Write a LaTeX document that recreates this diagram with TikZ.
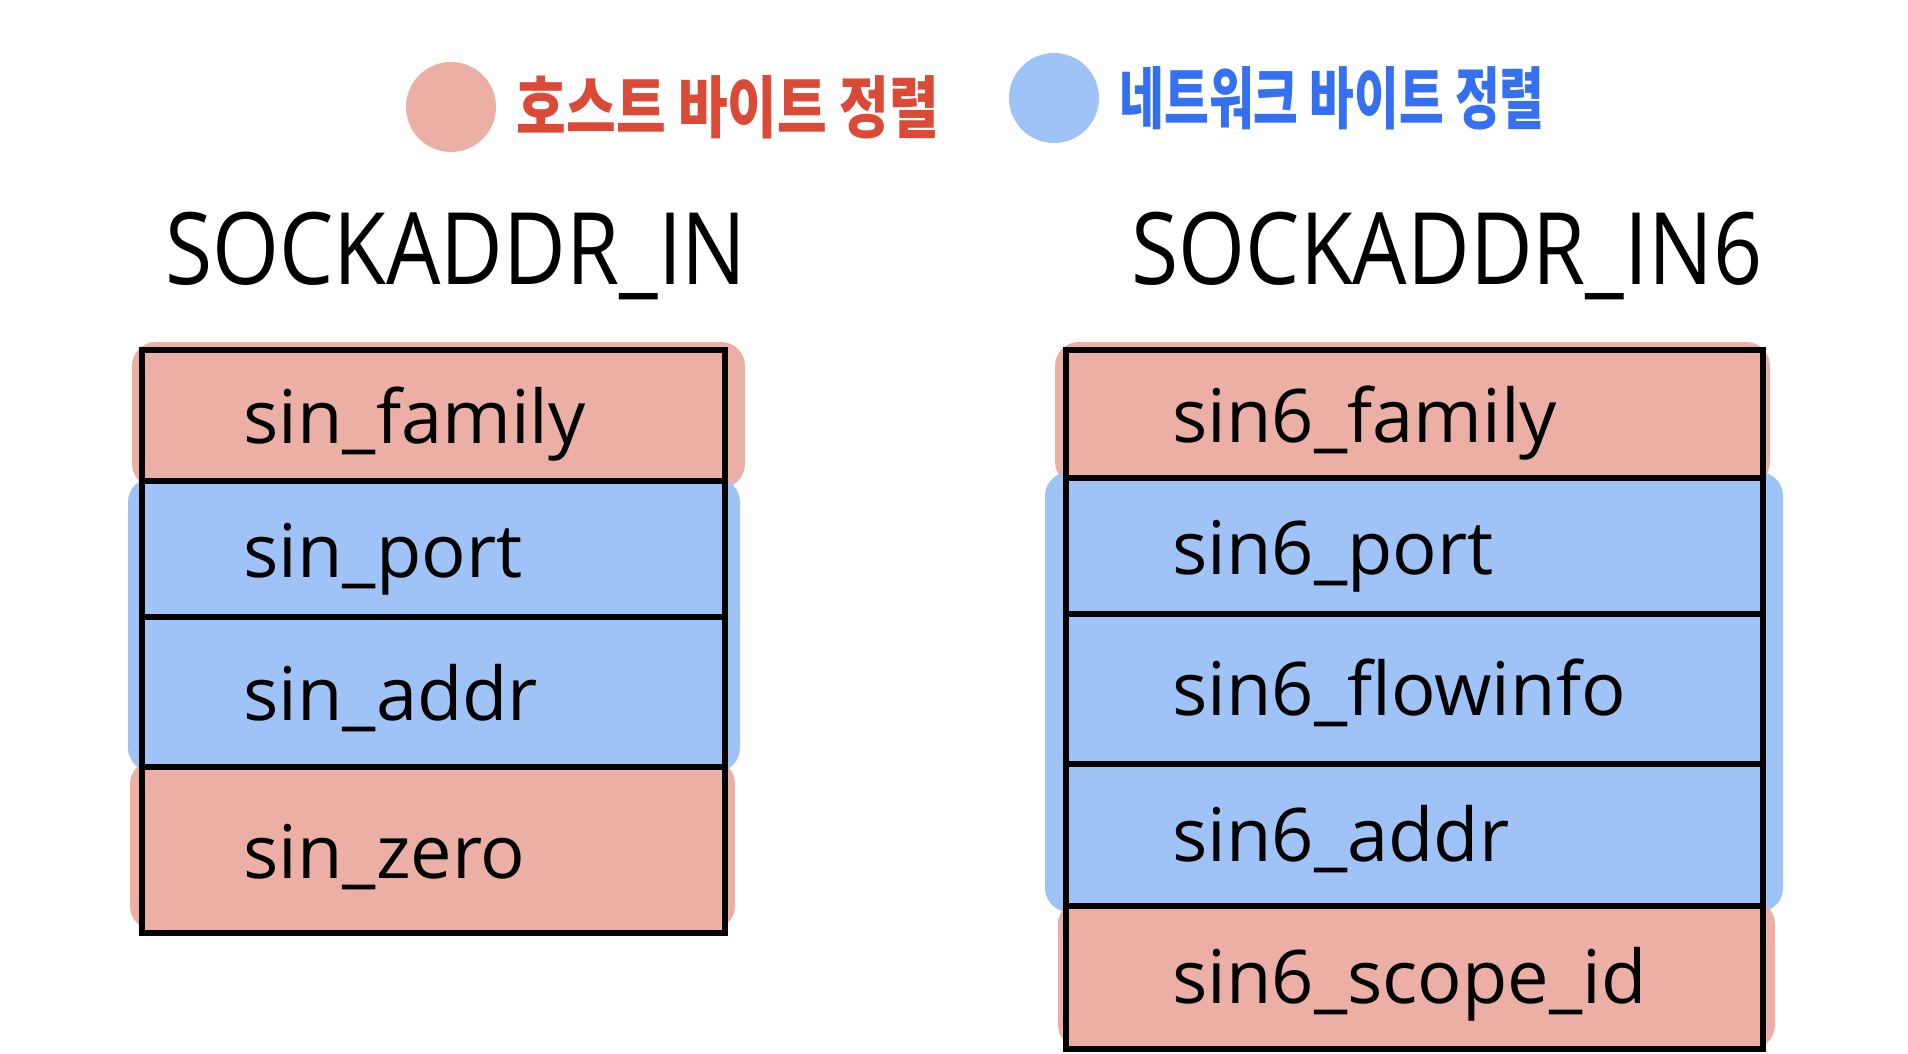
\documentclass[tikz,border=0pt]{standalone}
\usepackage{fontspec}
\setmainfont{Open Sans}
\newfontfamily\krfont{Noto Sans CJK KR}
\usepackage{xcolor}
\usetikzlibrary{positioning}
\definecolor{hostpink}{HTML}{ECAFA6}
\definecolor{netblue}{HTML}{9FC3F7}
\definecolor{hosttext}{HTML}{DB4A36}
\definecolor{nettext}{HTML}{3570F0}
\tikzset{
  hostrow/.style  = {draw=black, fill=hostpink, line width=3pt},
  netrow/.style   = {draw=black, fill=netblue, line width=3pt},
  hostwash/.style = {fill=hostpink, rounded corners=12pt},
  netwash/.style  = {fill=netblue, rounded corners=12pt},
  field/.style    = {font=\fontsize{37}{42}\selectfont, anchor=base west, inner sep=0pt},
  structname/.style = {font=\fontsize{50}{60}\selectfont, xscale=0.86, inner sep=0pt},
  legendtxt/.style  = {font=\krfont\bfseries\fontsize{27}{32}\selectfont, yscale=1.25, anchor=west, inner sep=0pt},
  dot/.style      = {circle, minimum size=45pt, inner sep=0pt},
}

\begin{document}
\begin{tikzpicture}[x=0.5pt,y=-0.5pt]
  \useasboundingbox (0,0) rectangle (1908,1054);

  % legend
  \node[dot, fill=hostpink] (hostdot) at (451,107) {};
  \node[legendtxt, text=hosttext, right=10pt of hostdot] (hostlbl) {호스트 바이트 정렬};
  \node[dot, fill=netblue] (netdot) at (1054,98) {};
  \node[legendtxt, xscale=0.9, text=nettext, right=10pt of netdot] (netlbl) {네트워크 바이트 정렬};

  % sockaddr_in
  \node[structname] (in4) at (456,256) {SOCKADDR\_IN};
  \fill[hostwash] (132,342) rectangle (745,488);
  \fill[netwash] (128,478) rectangle (740,772);
  \fill[hostwash] (130,760) rectangle (735,930);
  \draw[hostrow] (142,350) rectangle (725,481);
  \draw[netrow] (142,481) rectangle (725,617);
  \draw[netrow] (142,617) rectangle (725,767);
  \draw[hostrow] (142,767) rectangle (725,933);
  \node[field] (in4fam) at (243,443) {sin\_family};
  \node[field] (in4port) at (243,577) {sin\_port};
  \node[field] (in4addr) at (243,720) {sin\_addr};
  \node[field] (in4zero) at (243,878) {sin\_zero};

  % sockaddr_in6
  \node[structname] (in6) at (1447,256) {SOCKADDR\_IN6};
  \fill[hostwash] (1055,342) rectangle (1770,486);
  \fill[netwash] (1045,472) rectangle (1783,912);
  \fill[hostwash] (1058,900) rectangle (1775,1049);
  \draw[hostrow] (1066,350) rectangle (1763,478);
  \draw[netrow] (1066,478) rectangle (1763,614);
  \draw[netrow] (1066,614) rectangle (1763,764);
  \draw[netrow] (1066,764) rectangle (1763,906);
  \draw[hostrow] (1066,906) rectangle (1763,1049);
  \node[field] (in6fam) at (1172,442) {sin6\_family};
  \node[field] (in6port) at (1172,574) {sin6\_port};
  \node[field] (in6flow) at (1172,715) {sin6\_flowinfo};
  \node[field] (in6addr) at (1172,861) {sin6\_addr};
  \node[field] (in6scope) at (1172,1003) {sin6\_scope\_id};
\end{tikzpicture}
\end{document}
